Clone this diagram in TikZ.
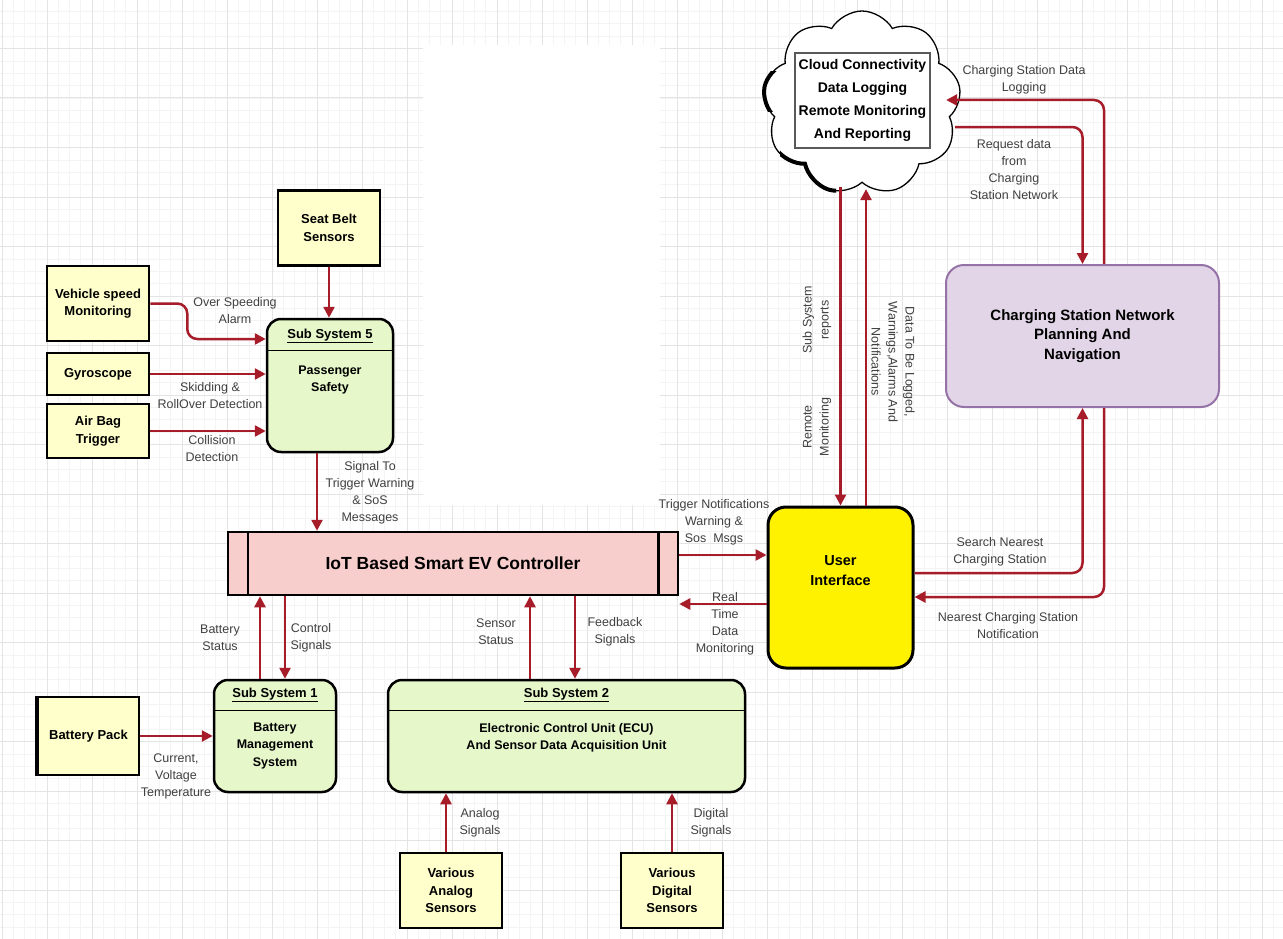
\documentclass[tikz,border=0pt]{standalone}
\usepackage{fontspec}
\setmainfont{Liberation Sans}
\usetikzlibrary{arrows.meta,shapes.symbols,positioning}

\definecolor{sensorfill}{RGB}{255,255,204}
\definecolor{subfill}{RGB}{230,247,202}
\definecolor{ctrlfill}{RGB}{248,206,204}
\definecolor{navfill}{RGB}{225,213,231}
\definecolor{navline}{RGB}{150,115,166}
\definecolor{flowred}{RGB}{166,28,40}
\definecolor{labelgrey}{RGB}{64,64,64}
\definecolor{gridmajor}{RGB}{228,228,228}
\definecolor{gridminor}{RGB}{244,244,244}

\begin{document}
\begin{tikzpicture}[x=1pt, y=-1pt,
    sensor/.style={draw=black, line width=2.5pt, fill=sensorfill, minimum width=102pt,
      align=center, font=\fontsize{13}{17.5}\selectfont\bfseries},
    subsys/.style={draw=black, line width=2.5pt, fill=subfill, rounded corners=14pt},
    sstitle/.style={font=\fontsize{13}{16}\selectfont\bfseries, inner sep=0pt},
    ssbody/.style={font=\fontsize{12.5}{17.5}\selectfont\bfseries, align=center, inner sep=0pt},
    flowlabel/.style={text=labelgrey, font=\fontsize{12.5}{17}\selectfont, align=center, inner sep=0pt},
    cloudshape/.style={cloud, cloud puffs=9, cloud puff arc=120, aspect=1.05,
      minimum width=198pt, minimum height=184pt},
    flow/.style={draw=flowred, line width=2.5pt, rounded corners=10pt, -{Triangle[length=11pt,width=11pt]}}]

    \useasboundingbox (0,0) rectangle (1283,939);
    \fill[white] (0,0) rectangle (1283,939);
    % background grid
    \foreach \gx in {2,13.25,...,1283} \draw[gridminor, line width=0.6pt] (\gx,0) -- (\gx,939);
    \foreach \gy in {11.375,23.75,...,939} \draw[gridminor, line width=0.6pt] (0,\gy) -- (1283,\gy);
    \foreach \gx in {2,47,...,1283} \draw[gridmajor, line width=1pt] (\gx,0) -- (\gx,939);
    \foreach \gy in {48.5,98,...,939} \draw[gridmajor, line width=1pt] (0,\gy) -- (1283,\gy);
    \fill[white] (423,45) rectangle (660,505);

    % sensors feeding sub system 5
    \node[sensor, minimum height=75pt] (seat) at (329,228) {Seat Belt\\Sensors};
    \node[sensor, minimum height=75pt] (speed) at (98,303.5) {Vehicle speed\\Monitoring};
    \node[sensor, minimum height=42pt] (gyro) at (98,374) {Gyroscope};
    \node[sensor, minimum height=54pt] (airbag) at (98,431) {Air Bag\\Trigger};

    \node[subsys, minimum width=126pt, minimum height=133pt] (ss5) at (330,385.5) {};
    \node[sstitle] (ss5title) at ([yshift=-18pt]ss5.north) {\underline{Sub System 5}};
    \draw[line width=0.8pt] ([yshift=-33pt]ss5.north west) -- ([yshift=-33pt]ss5.north east);
    \node[ssbody] (ss5body) at ([yshift=-62pt]ss5.north) {Passenger\\Safety};

    % controller
    \node[draw=black, line width=2.5pt, fill=ctrlfill, minimum width=450pt, minimum height=63pt,
      font=\fontsize{17.5}{20}\selectfont\bfseries] (ctrl) at (453,563.5) {IoT Based Smart EV Controller};
    \draw[line width=2.5pt] ([xshift=21pt]ctrl.north west) -- ([xshift=21pt]ctrl.south west);
    \draw[line width=2.5pt] ([xshift=-21pt]ctrl.north east) -- ([xshift=-21pt]ctrl.south east);

    % sub system 1 and 2
    \node[sensor, minimum width=101pt, minimum height=78pt] (bat) at (88.5,736) {Battery Pack};
    \draw[line width=4pt] (bat.north west) -- (bat.south west);
    \node[subsys, minimum width=122pt, minimum height=112pt] (ss1) at (275,736) {};
    \node[sstitle] (ss1title) at ([yshift=-16pt]ss1.north) {\underline{Sub System 1}};
    \draw[line width=0.8pt] ([yshift=-32pt]ss1.north west) -- ([yshift=-32pt]ss1.north east);
    \node[ssbody] (ss1body) at ([yshift=-67pt]ss1.north) {Battery\\Management\\System};

    \node[subsys, minimum width=357pt, minimum height=112pt] (ss2) at (566.5,736) {};
    \node[sstitle] (ss2title) at ([yshift=-16pt]ss2.north) {\underline{Sub System 2}};
    \draw[line width=0.8pt] ([yshift=-32pt]ss2.north west) -- ([yshift=-32pt]ss2.north east);
    \node[ssbody] (ss2body) at ([yshift=-59pt]ss2.north) {Electronic Control Unit (ECU)\\And Sensor Data Acquisition Unit};

    \node[sensor, minimum height=75pt] (analog) at (451,890.5) {Various\\Analog\\Sensors};
    \node[sensor, minimum height=75pt] (digital) at (672,890.5) {Various\\Digital\\Sensors};

    % user interface, cloud, charging network
    \node[draw=black, line width=3pt, fill=yellow, rounded corners=18pt, minimum width=145pt,
      minimum height=161pt] (ui) at (840.5,587.5) {};
    \node[font=\fontsize{14.5}{20}\selectfont\bfseries, align=center] (uitext) at ([yshift=17pt]ui.center) {User\\Interface};

    \node[draw=navline, line width=2pt, fill=navfill, rounded corners=18pt, minimum width=273pt,
      minimum height=142pt, align=center, font=\fontsize{15}{19.5}\selectfont\bfseries] (csn) at (1082.5,336)
      {Charging Station Network\\Planning And\\Navigation};

    \node[cloudshape, draw=black, line width=1.3pt, fill=white] (cloud) at (862,103) {};
    \begin{scope}
      \clip (750,72) rectangle (782,112);
      \node[cloudshape, draw=black, line width=4pt] (cloudedgeleft) at (862,103) {};
    \end{scope}
    \begin{scope}
      \clip (780,150) rectangle (836,200);
      \node[cloudshape, draw=black, line width=4pt] (cloudedgelow) at (862,103) {};
    \end{scope}
    \node[draw=black!65, line width=1.5pt, fill=white, minimum width=135pt, minimum height=95pt, inner sep=1pt,
      align=center, font=\fontsize{14}{23}\selectfont\bfseries] (cloudbox) at (862.5,100.5)
      {Cloud Connectivity\\Data Logging\\Remote Monitoring\\And Reporting};

    % connectors
    \draw[flow] (seat.south) -- (seat.south |- ss5.north);
    \draw[flow] (speed.east) -- ++(37,0) |- ([yshift=46.5pt]ss5.west);
    \draw[flow] (gyro.east) -- (gyro.east -| ss5.west);
    \draw[flow] (airbag.east) -- (airbag.east -| ss5.west);
    \draw[flow] ([xshift=-13pt]ss5.south) -- ([xshift=-13pt]ss5.south |- ctrl.north);

    \draw[flow] ([yshift=8.5pt]ctrl.east) -- ([yshift=8.5pt]ctrl.east -| ui.west);
    \draw[flow] ([yshift=-16.5pt]ui.west) -- ([yshift=-16.5pt]ui.west -| ctrl.east);

    \draw[flow] ([xshift=-15pt]ss1.north) -- ([xshift=-15pt]ss1.north |- ctrl.south);
    \draw[flow] ([xshift=10pt]ss1.north |- ctrl.south) -- ([xshift=10pt]ss1.north);
    \draw[flow] ([xshift=-36.5pt]ss2.north) -- ([xshift=-36.5pt]ss2.north |- ctrl.south);
    \draw[flow] ([xshift=8.5pt]ss2.north |- ctrl.south) -- ([xshift=8.5pt]ss2.north);
    \draw[flow] (bat.east) -- (ss1.west);
    \draw[flow] ([xshift=-5pt]analog.north) -- ([xshift=-5pt]analog.north |- ss2.south);
    \draw[flow] (digital.north) -- (digital.north |- ss2.south);

    \draw[flow] ([yshift=-4pt]ui.north |- cloud.south) -- (ui.north);
    \draw[flow] ([xshift=25.5pt]ui.north) -- ([xshift=25.5pt,yshift=-6pt]ui.north |- cloud.south);
    \draw[flow] ([xshift=21.5pt]csn.north) |- ([shift={(-13,-3)}]cloud.east);
    \draw[flow] ([shift={(-4,24)}]cloud.east) -| (csn.north);
    \draw[flow] ([yshift=14.5pt]ui.east) -| (csn.south);
    \draw[flow] ([xshift=21.5pt]csn.south) |- ([yshift=-9.5pt]ui.east);

    % labels
    \node[flowlabel] (lblspeed) at (235,311) {Over Speeding\\Alarm};
    \node[flowlabel] (lblgyro) at (210,396) {Skidding \&\\RollOver Detection};
    \node[flowlabel] (lblairbag) at (212,449) {Collision\\Detection};
    \node[flowlabel] (lblsignal) at (370,493) {Signal To\\Trigger Warning\\\& SoS\\Messages};
    \node[flowlabel] (lbltrigger) at (714,522) {Trigger Notifications\\Warning \&\\Sos\ \ Msgs};
    \node[flowlabel] (lblrealtime) at (725,624) {Real\\Time\\Data\\Monitoring};
    \node[flowlabel] (lblbatstat) at (220,638) {Battery\\Status};
    \node[flowlabel] (lblcontrol) at (311,638) {Control\\Signals};
    \node[flowlabel] (lblsensor) at (496,632) {Sensor\\Status};
    \node[flowlabel] (lblfeedback) at (615,632) {Feedback\\Signals};
    \node[flowlabel] (lblcurrent) at (176,776) {Current,\\Voltage\\Temperature};
    \node[flowlabel] (lblanalog) at (480,823) {Analog\\Signals};
    \node[flowlabel] (lbldigital) at (711,823) {Digital\\Signals};
    \node[flowlabel] (lbllogging) at (1024,80) {Charging Station Data\\Logging};
    \node[flowlabel] (lblrequest) at (1014,170) {Request data\\from\\Charging\\Station Network};
    \node[flowlabel, rotate=90] (lblreports) at (817,320) {Sub System\\reports};
    \node[flowlabel, rotate=90] (lblremote) at (817,427) {Remote\\Monitoring};
    \node[flowlabel, rotate=-90] (lbldata) at (893,362) {Data To Be Logged,\\Warnings,Alarms And\\Notifications};
    \node[flowlabel] (lblsearch) at (1000,552) {Search Nearest\\Charging Station};
    \node[flowlabel] (lblnearest) at (1008,626) {Nearest Charging Station\\Notification};
\end{tikzpicture}
\end{document}
